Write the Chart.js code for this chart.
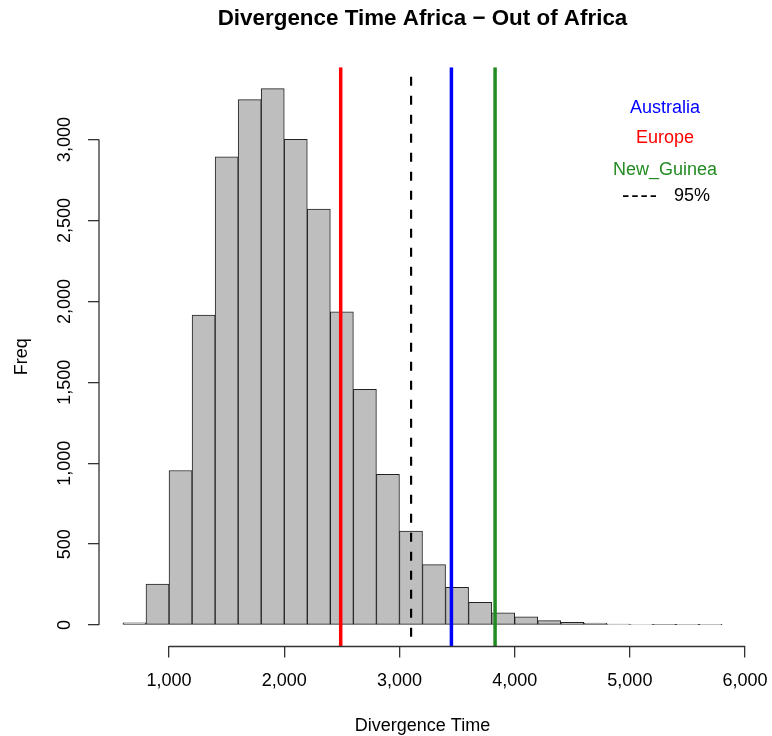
<!DOCTYPE html>
<html lang="en">
  <head>
    <meta charset="UTF-8" />
    <title>Divergence Time Africa - Out of Africa</title>
    <script src="https://cdn.jsdelivr.net/npm/chart.js@4.4.0/dist/chart.umd.min.js"></script>
    <style>
      body { margin: 0; background: #fff; }
    </style>
  </head>
  <body>
    <canvas id="histChart" width="772" height="736"></canvas>

    <script>
      // histogram bins (left edge of each 200 wide bin) and counts
      const binStarts = [600, 800, 1000, 1200, 1400, 1600, 1800, 2000, 2200, 2400, 2600, 2800, 3000,
                         3200, 3400, 3600, 3800, 4000, 4200, 4400, 4600, 4800, 5000, 5200, 5400, 5600];
      const binWidth = 200;
      const counts = [14, 253, 955, 1915, 2894, 3247, 3315, 3002, 2571, 1936, 1457, 931, 581,
                      373, 233, 140, 76, 51, 27, 17, 12, 6, 5, 3, 2, 2];

      const xTicks = [1000, 2000, 3000, 4000, 5000, 6000];
      const yTicks = [0, 500, 1000, 1500, 2000, 2500, 3000];

      // vertical reference lines
      const lineNames = ["Australia", "Europe", "New_Guinea", "95%"];
      const lineValues = [3451, 2490, 3830, 3101];
      const lineColors = ["#0000FF", "#FF0000", "#228B22", "#000000"];

      Chart.defaults.font.family = "'Liberation Sans', Arial, sans-serif";
      Chart.defaults.font.size = 18;
      Chart.defaults.color = "#000";

      // R style ranges: data range stretched by 4% each side
      const xLo = binStarts[0];
      const xHi = binStarts[binStarts.length - 1] + binWidth;
      const xPad = (xHi - xLo) * 0.04;
      const yTop = Math.max(...counts);
      const yPad = yTop * 0.04;

      const fmt = (v) => Number(v).toLocaleString("en-US");

      const barData = binStarts.map((s, i) => ({ x: s + binWidth / 2, y: counts[i] }));

      const lineSets = lineNames.map((name, i) => {
        const dashed = name === "95%";
        return {
          type: "line",
          label: name,
          data: [{ x: lineValues[i], y: yTop + yPad }, { x: lineValues[i], y: -yPad }],
          borderColor: lineColors[i],
          borderWidth: dashed ? 2.2 : 3.5,
          borderDash: dashed ? [9, 10] : [],
          borderDashOffset: 9.5,
          pointRadius: 0,
          order: 1,
        };
      });

      // axis lines (only from first to last tick) + text legend
      const rAxes = {
        id: "rAxes",
        afterDraw(chart) {
          const { ctx, chartArea, scales } = chart;
          const x = scales.x;
          const y = scales.y;
          ctx.save();
          ctx.strokeStyle = "#333";
          ctx.lineWidth = 1.3;
          ctx.beginPath();
          ctx.moveTo(x.getPixelForValue(xTicks[0]), chartArea.bottom);
          ctx.lineTo(x.getPixelForValue(xTicks[xTicks.length - 1]), chartArea.bottom);
          ctx.moveTo(chartArea.left, y.getPixelForValue(yTicks[0]));
          ctx.lineTo(chartArea.left, y.getPixelForValue(yTicks[yTicks.length - 1]));
          ctx.stroke();

          // legend
          const cx = chartArea.right - 81;
          const rows = [41, 71, 103, 129];
          ctx.font = "18px 'Liberation Sans', Arial, sans-serif";
          ctx.textBaseline = "middle";
          lineNames.forEach((name, i) => {
            const ly = chartArea.top + rows[i];
            if (name === "95%") {
              ctx.strokeStyle = lineColors[i];
              ctx.lineWidth = 1.8;
              ctx.setLineDash([5.5, 3.7]);
              ctx.beginPath();
              ctx.moveTo(cx - 42, ly);
              ctx.lineTo(cx - 9, ly);
              ctx.stroke();
              ctx.setLineDash([]);
              ctx.fillStyle = "#000";
              ctx.textAlign = "left";
              ctx.fillText(name, cx + 9, ly);
            } else {
              ctx.fillStyle = lineColors[i];
              ctx.textAlign = "center";
              ctx.fillText(name, cx, ly);
            }
          });
          ctx.restore();
        },
      };

      new Chart(document.getElementById("histChart").getContext("2d"), {
        type: "bar",
        data: {
          datasets: [
            {
              type: "bar",
              label: "Freq",
              data: barData,
              backgroundColor: "#BEBEBE",
              borderColor: "#222",
              borderWidth: 1,
              borderSkipped: false,
              barPercentage: 1,
              categoryPercentage: 1,
              order: 2,
            },
            ...lineSets,
          ],
        },
        options: {
          responsive: false,
          animation: false,
          layout: { padding: { top: 0, right: 26, bottom: 0, left: 0 } },
          plugins: {
            legend: { display: false },
            tooltip: { enabled: false },
            title: {
              display: true,
              text: "Divergence Time Africa \u2212 Out of Africa",
              fullSize: false,
              color: "#000",
              font: { size: 22.4, weight: "bold" },
              padding: { top: 5, bottom: 35.3 },
            },
          },
          scales: {
            x: {
              type: "linear",
              min: xLo - xPad,
              max: xHi + xPad,
              offset: false,
              border: { display: false },
              grid: { offset: false, drawOnChartArea: false, tickLength: 11, color: "#333", lineWidth: 1.3 },
              ticks: { padding: 12.4, maxRotation: 0, autoSkip: false, callback: fmt },
              afterBuildTicks: (s) => { s.ticks = xTicks.map((v) => ({ value: v })); },
              afterFit: (s) => {
                s.height = 89.5;
                s.paddingLeft = 0;
                s.paddingRight = 0;
              },
              title: {
                display: true,
                text: "Divergence Time",
                font: { size: 18, lineHeight: 1.1 },
                padding: { top: 0, bottom: 0 },
              },
            },
            y: {
              min: -yPad,
              max: yTop + yPad,
              border: { display: false },
              grid: { drawOnChartArea: false, tickLength: 11, color: "#333", lineWidth: 1.3 },
              ticks: { minRotation: 90, maxRotation: 90, crossAlign: "center", padding: 0, autoSkip: false, callback: fmt },
              afterBuildTicks: (s) => { s.ticks = yTicks.map((v) => ({ value: v })); },
              afterFit: (s) => {
                s.width = 99;
                s.paddingTop = 0;
                s.paddingBottom = 0;
              },
              title: {
                display: true,
                text: "Freq",
                font: { size: 18 },
                padding: { top: 11.2, bottom: 0 },
              },
            },
          },
        },
        plugins: [rAxes],
      });
    </script>
  </body>
</html>
